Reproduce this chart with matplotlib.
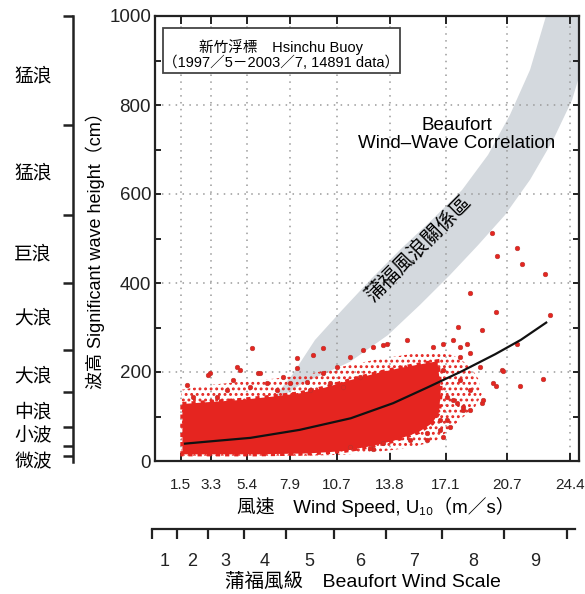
import numpy as np
import matplotlib
matplotlib.use("Agg")
import matplotlib.pyplot as plt
from matplotlib.patches import Rectangle, Polygon
from matplotlib.ticker import FixedLocator, FixedFormatter, NullFormatter
from matplotlib import transforms

plt.rcParams['font.family'] = ['Liberation Sans', 'Noto Sans CJK TC', 'DejaVu Sans']
plt.rcParams['hatch.linewidth'] = 1.3

W, H = 585, 594
RED = '#e52520'

# wind speed ticks (upper limits of each Beaufort number), m/s
wind_ticks = [1.5, 3.3, 5.4, 7.9, 10.7, 13.8, 17.1, 20.7, 24.4]
wind_tick_labels = ['1.5', '3.3', '5.4', '7.9', '10.7', '13.8', '17.1', '20.7', '24.4']
beaufort_edges = [0, 1.5, 3.3, 5.4, 7.9, 10.7, 13.8, 17.1, 20.7, 24.4]
beaufort_numbers = ['1', '2', '3', '4', '5', '6', '7', '8', '9']

# wave scale on the left (cm)
wave_edges = [12, 33, 77, 155, 250, 400, 552, 755, 1000]
wave_names = ['微波', '小波', '中浪', '大浪', '大浪', '巨浪', '猛浪', '猛浪']
wave_name_y = [-5, 54, 108, 189, 321, 463, 647, 863]

# Beaufort wind-wave correlation band (grey), upper and lower edges
band_upper_wind = [6.5, 8.05, 9.40, 10.99, 12.75, 14.52, 16.28, 18.05, 19.58, 20.87, 22.05, 22.99, 23.6]
band_upper_h = [120, 193, 272, 339, 411, 479, 542, 609, 688, 778, 879, 1000, 1080]
band_lower_wind = [6.5, 8.52, 11.46, 13.69, 15.58, 17.34, 18.99, 20.58, 22.05, 23.4, 24.52, 25.58, 26.2]
band_lower_h = [120, 171, 223, 283, 351, 418, 485, 553, 632, 721, 811, 946, 1080]

# dense part of the buoy observations
core_top_wind = [1.6, 3.0, 5.0, 7.0, 8.5, 10.0, 11.5, 13.0, 14.4, 16.0, 16.6]
core_top_h = [128, 132, 137, 145, 152, 165, 182, 197, 209, 220, 224]
core_bottom_wind = [1.6, 6.0, 9.0, 11.0, 12.5, 14.0, 15.5, 16.3, 16.7, 16.8]
core_bottom_h = [15, 15, 17, 22, 32, 45, 65, 85, 110, 160]

# looser fringe of observations around the dense part
fringe_wind = [1.55, 3.0, 5.0, 7.0, 9.0, 11.0, 13.0, 15.0, 16.5, 17.5, 18.5, 19.0, 19.2,
               18.8, 18.0, 17.3, 16.5, 15.0, 13.0, 11.0, 9.0, 1.55]
fringe_h = [160, 170, 178, 185, 195, 212, 228, 240, 245, 238, 215, 185, 150,
            120, 95, 70, 45, 30, 20, 14, 12, 12]

# sparse observations outside the dense part
sparse_wind = [18.52, 20.05, 23.22, 17.83, 19.2, 21.26, 18.32, 20.38, 22.83, 21.46, 20.05, 19.2,
               18.52, 16.95, 12.83, 19.79, 21.3, 20.12, 21.6, 22.93, 9.89, 14.79, 5.68, 9.3,
               8.32, 4.79, 3.22, 6.06, 11.46, 12.83, 13.62, 20.48, 19.3, 4.99, 1.85, 12.24,
               13.42, 16.36, 16.95, 17.93, 18.52, 19.1, 19.9, 17.15, 17.74, 18.12, 15.97, 14.99,
               13.42, 11.46, 12.64, 16.75, 17.34, 3.12, 4.2, 5.58, 6.56, 7.54, 8.32, 8.91,
               9.89, 10.68, 12.05, 2.24, 3.62, 4.6, 6.16, 7.15, 7.93, 9.1, 10.28, 11.07,
               17.5, 17.93, 16.95, 17.93, 18.52, 17.5, 18.1, 17.15, 16.75, 15.97]
sparse_h = [377, 335, 328, 302, 294, 264, 264, 204, 184, 168, 168, 131,
            115, 55, 28, 513, 479, 461, 442, 421, 255, 273, 253, 238,
            231, 212, 197, 197, 234, 257, 264, 203, 137, 204, 171, 249,
            261, 257, 264, 257, 242, 212, 175, 144, 130, 115, 62, 47,
            40, 32, 29, 92, 77, 193, 160, 167, 175, 189, 208, 178,
            197, 212, 189, 144, 144, 182, 197, 160, 175, 160, 175, 167,
            272, 234, 204, 182, 160, 137, 122, 92, 70, 47]

# fitted mean curve
curve_wind = [1.75, 3.5, 5.6, 8.5, 11.5, 14.0, 16.0, 18.0, 20.0, 21.5, 23.0]
curve_h = [39, 45, 52, 70, 96, 130, 165, 201, 240, 272, 311]

fig = plt.figure(figsize=(W / 100, H / 100), dpi=100)
fig.patch.set_facecolor('white')

left, right, top, bottom = 155.2, 578.5, 16, 461
ax = fig.add_axes([left / W, 1 - bottom / H, (right - left) / W, (bottom - top) / H])
ax.set_xlim(0, 24.9)
ax.set_ylim(0, 1000)

# grey correlation band
bx = band_upper_wind + band_lower_wind[::-1]
by = band_upper_h + band_lower_h[::-1]
ax.fill(bx, by, color='#d4d9de', lw=0, zorder=1)

# grid
ax.set_axisbelow('line')
ax.set_xticks(wind_ticks)
ax.set_xticklabels(wind_tick_labels)
ax.yaxis.set_major_locator(FixedLocator([0, 200, 400, 600, 800, 1000]))
ax.yaxis.set_minor_locator(FixedLocator([100, 300, 500, 700, 900]))
ax.grid(True, which='major', color='#9a9a9a', linestyle=(0, (1, 3.5)), lw=1.1)

# observations
ax.add_patch(Polygon(np.column_stack([fringe_wind, fringe_h]), closed=True, facecolor='none',
                     edgecolor=RED, hatch='...', lw=0, zorder=2))
cx = core_top_wind + core_bottom_wind[::-1]
cy = core_top_h + core_bottom_h[::-1]
ax.fill(cx, cy, color=RED, lw=3, edgecolor=RED, linestyle=(0, (1, 1.2)), zorder=2.1)
ax.scatter(sparse_wind, sparse_h, s=11, color=RED, edgecolors='#b8322c', linewidths=0.4, zorder=2.2)

ax.plot(curve_wind, curve_h, color='#111111', lw=1.6, zorder=3)

# axes styling
for s in ax.spines.values():
    s.set_linewidth(1.6)
    s.set_color('#222222')
ax.tick_params(axis='x', which='both', direction='in', top=True, length=6, width=1.4,
               labelsize=11, pad=12, colors='#222222')
ax.tick_params(axis='y', which='both', direction='in', right=True, length=4.5, width=1.4,
               labelsize=13.5, pad=3, colors='#222222')
ax.set_yticklabels(['0', '200', '400', '600', '800', '1000'])

# title box
ax.add_patch(Rectangle((0.0184, 0.872), 0.56, 0.101, transform=ax.transAxes,
                       facecolor='white', edgecolor='#444444', lw=1.3, zorder=5))
ax.text(0.298, 0.930, '新竹浮標　Hsinchu Buoy', transform=ax.transAxes,
        ha='center', va='center', fontsize=10.5, zorder=6)
ax.text(0.298, 0.894, '（1997／5－2003／7, 14891 data）', transform=ax.transAxes,
        ha='center', va='center', fontsize=10.5, zorder=6)

ax.text(17.75, 733, 'Beaufort\nWind–Wave Correlation', ha='center', va='center',
        fontsize=13.5, linespacing=1.1, zorder=6)
ax.text(15.5, 476, '蒲福風浪關係區', ha='center', va='center', rotation=45,
        rotation_mode='anchor', fontsize=14.5, zorder=6)

# labels
fig.text(95 / W, 1 - 246 / H, '波高 Significant wave height（cm）', rotation=90,
         ha='center', va='center', fontsize=13)
fig.text(376 / W, 1 - 507 / H, '風速　Wind Speed, U₁₀（m／s）', ha='center', va='center',
         fontsize=13.5)

# Beaufort number axis at the bottom
axb = fig.add_axes([(left - 3.5) / W, 1 - 529 / H, (right - left) / W, 0.0001])
axb.set_xlim(0, 24.9)
axb.set_ylim(0, 1)
axb.set_facecolor('none')
for k in ['top', 'left', 'right']:
    axb.spines[k].set_visible(False)
axb.spines['bottom'].set_linewidth(1.6)
axb.spines['bottom'].set_color('#222222')
axb.set_yticks([])
axb.xaxis.set_major_locator(FixedLocator(beaufort_edges))
axb.xaxis.set_major_formatter(NullFormatter())
mids = [(a + b) / 2 for a, b in zip(beaufort_edges[:-1], beaufort_edges[1:])]
axb.xaxis.set_minor_locator(FixedLocator(mids))
axb.xaxis.set_minor_formatter(FixedFormatter(beaufort_numbers))
axb.tick_params(axis='x', which='major', direction='out', length=7, width=1.6, colors='#222222')
axb.tick_params(axis='x', which='minor', length=0, labelsize=13, pad=17, colors='#222222')
fig.text(363 / W, 1 - 582 / H, '蒲福風級　Beaufort Wind Scale', ha='center', va='center',
         fontsize=14)

# wave scale on the left
axw = fig.add_axes([73 / W, 1 - bottom / H, 0.0001, (bottom - top) / H])
axw.set_ylim(0, 1000)
axw.set_facecolor('none')
for k in ['top', 'bottom', 'right']:
    axw.spines[k].set_visible(False)
axw.spines['left'].set_linewidth(1.8)
axw.spines['left'].set_color('#222222')
axw.spines['left'].set_bounds(-3, 1000)
axw.set_xticks([])
axw.yaxis.set_major_locator(FixedLocator(wave_edges))
axw.yaxis.set_major_formatter(NullFormatter())
axw.tick_params(axis='y', which='major', direction='out', length=7.5, width=1.8, colors='#222222')
trans = transforms.blended_transform_factory(fig.transFigure, axw.transData)
for name, yv in zip(wave_names, wave_name_y):
    axw.text(33 / W, yv, name, transform=trans, ha='center', va='center', fontsize=13.5,
             clip_on=False)

fig.savefig('out.png', dpi=100)
